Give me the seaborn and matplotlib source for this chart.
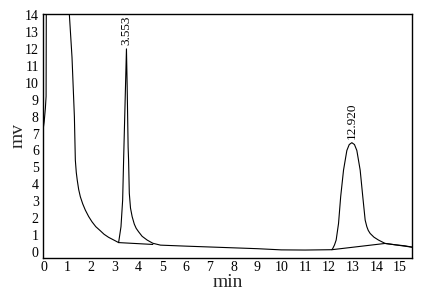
import matplotlib
matplotlib.use("Agg")
import matplotlib.pyplot as plt
import seaborn as sns
import pandas as pd

# chromatogram trace (time in min, signal in mV)
time = [0.0, 0.03, 0.08, 0.11, 0.12, 1.05, 1.09, 1.2, 1.3, 1.34, 1.38, 1.42, 1.48,
        1.55, 1.65, 1.76, 1.9, 2.04, 2.2, 2.39, 2.55, 2.74, 3.0, 3.16, 3.26, 3.33,
        3.37, 3.45, 3.49, 3.52, 3.56, 3.58, 3.61, 3.66, 3.73, 3.82, 3.9, 4.0, 4.15,
        4.36, 4.6, 4.92, 6.0, 7.0, 8.0, 9.0, 10.0, 11.0, 12.13, 12.17, 12.24,
        12.31, 12.41, 12.5, 12.62, 12.76, 12.86, 12.97, 13.08, 13.18, 13.32, 13.43,
        13.53, 13.6, 13.66, 13.74, 13.9, 14.09, 14.37, 14.8, 15.2, 15.55]
signal = [7.4, 7.7, 8.5, 9.2, 15.0, 15.0, 14.0, 11.5, 8.0, 5.43, 4.7, 4.25, 3.7,
          3.27, 2.85, 2.48, 2.1, 1.79, 1.5, 1.26, 1.05, 0.87, 0.68, 0.56, 1.5, 3.07,
          5.4, 9.8, 12.0, 9.8, 6.2, 5.4, 3.47, 2.6, 2.09, 1.65, 1.4, 1.2, 0.93,
          0.71, 0.52, 0.41, 0.35, 0.3, 0.25, 0.2, 0.13, 0.12, 0.14, 0.22, 0.42,
          0.71, 1.69, 3.27, 4.84, 6.0, 6.35, 6.46, 6.35, 6.0, 4.84, 3.27, 1.89,
          1.5, 1.28, 1.1, 0.88, 0.71, 0.51, 0.43, 0.37, 0.28]

# integration baselines drawn under the peaks
base1_t = [3.16, 4.6]
base1_s = [0.56, 0.45]
base2_t = [12.13, 14.37, 15.55]
base2_s = [0.14, 0.51, 0.28]

# peak annotations
peak_t = [3.49, 12.97]
peak_s = [12.0, 6.46]
peak_lbl = ["3.553", "12.920"]

xticks = list(range(0, 16))
yticks = list(range(0, 15))

sns.set_style("white")
plt.rcParams['font.family'] = ['Liberation Serif', 'DejaVu Serif']

fig = plt.figure(figsize=(4.24, 2.98), dpi=100)
ax = fig.add_axes([43 / 424, 1 - 258 / 298, (412 - 43) / 424, (258 - 14) / 298])

trace = pd.DataFrame({"t": time, "s": signal})
sns.lineplot(data=trace, x="t", y="s", sort=False, color="black", lw=0.8, ax=ax)
sns.lineplot(x=base1_t, y=base1_s, sort=False, color="black", lw=0.8, ax=ax)
sns.lineplot(x=base2_t, y=base2_s, sort=False, color="black", lw=0.8, ax=ax)

for t, s, lbl in zip(peak_t, peak_s, peak_lbl):
    ax.annotate(lbl, (t, s), xytext=(0, 3), textcoords="offset points",
                rotation=90, ha="center", va="bottom", fontsize=9.5, color="black")

ax.set_xlim(-0.02, 15.5)
ax.set_ylim(-0.35, 14.06)
ax.set_xticks(xticks)
ax.set_yticks(yticks)
ax.tick_params(axis="both", length=0, labelsize=10, colors="black")
ax.tick_params(axis="x", pad=2)
ax.tick_params(axis="y", pad=3)
for sp in ax.spines.values():
    sp.set_color("black")
    sp.set_linewidth(1.0)
    sp.set_visible(True)

ax.set_xlabel("min", fontsize=14, labelpad=0)
ax.set_ylabel("mv", fontsize=14, labelpad=-1)

fig.savefig("out.png", dpi=100, facecolor="white")
